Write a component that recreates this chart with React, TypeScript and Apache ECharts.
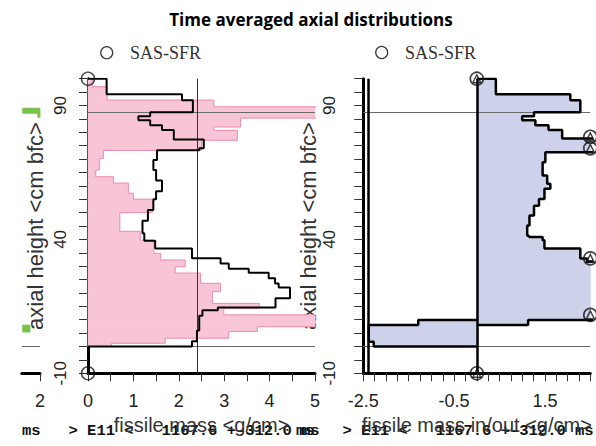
import React, { useEffect, useRef } from "react";
import * as echarts from "echarts";

// ---------- texts ----------
const TITLE = "Time averaged axial distributions";
const LEGEND_LABEL = "SAS-SFR";
const Y_NAME = "axial height <cm bfc>";
const X_NAME_LEFT = "fissile mass <g/cm>";
const X_NAME_RIGHT = "fissile mass in/out <g/cm>";
const FOOTER = "ms   > E11 <   1167.6 +-312.0 ms";

// ---------- tick labels ----------
const Y_TICK_LABELS = [-10, 40, 90];
const X_TICK_LABELS_LEFT = [0, 1, 2, 3, 4, 5];
const X_TICK_LABELS_RIGHT = [-2.5, -0.5, 1.5];
const X_TICK_LABELS_PARTIAL = [2];

// ---------- left panel: fissile mass (black outline) ----------
const massEdges = [100, 94.2, 92, 87.5, 86, 84.5, 82.6, 80.8, 77.3, 74, 73.3, 69.6, 65.9, 62, 58, 55, 51, 47, 42.3, 39.5, 36.6, 33, 31, 29, 27.5, 25.5, 23.5, 22, 18, 14.6, 13.5, 11.5, 6, 2, 0];
const massValues = [0.41, 2.07, 2.31, 1.37, 1.11, 1.37, 1.63, 1.89, 2.55, 2.45, 1.52, 1.44, 1.5, 1.63, 1.5, 1.44, 1.32, 1.2, 1.24, 1.48, 2.29, 2.92, 3.1, 3.54, 3.98, 4.12, 4.2, 4.45, 4.13, 2.86, 2.52, 2.45, 2.4, 2.29];

// ---------- left panel: pink filled distribution ----------
const pinkEdges = [100, 97, 92, 89.5, 85.3, 82, 80.7, 77, 73.2, 70.2, 65.9, 63.4, 61, 57.2, 55, 50, 43, 39.7, 34.8, 32.3, 29.8, 27.4, 23.6, 20.5, 16.1, 14.3, 11.8, 7.4, 5.6, 3.1, 1.2, 0];
const pinkValues = [0.1, 0.42, 2.77, 5.2, 3.36, 2.77, 3.29, 2.5, 0.34, 0.25, 0.17, 0.56, 0.89, 1.0, 1.42, 0.7, 1.15, 1.45, 1.6, 2.14, 1.92, 2.48, 2.92, 2.74, 3.77, 2.99, 5.2, 3.73, 3.1, 1.7, 0.52];

// ---------- right panel: fissile mass in (positive) / out (negative) ----------
const inEdges = [100, 94.2, 92, 87.5, 86, 84.5, 82.6, 80.8, 77.7, 72.5, 68.8, 63.9, 60.8, 58.9, 55.1, 52.6, 48.9, 45.2, 41.4, 40.9, 39.7, 36.6, 32.9, 31.7, 9.9, 8.0];
const inValues = [0.42, 2.06, 2.28, 1.26, 1.0, 1.29, 1.58, 1.88, 2.7, 1.51, 1.45, 1.55, 1.62, 1.49, 1.37, 1.26, 1.16, 1.11, 1.15, 1.45, 1.49, 2.28, 2.43, 2.7, 1.13];
const outEdges = [9.9, 8.0, 1.8, 0];
const outValues = [-1.29, -2.38, -2.27];

// ---------- markers ----------
const leftMarkers = [[0, 100], [0, -10]];
const rightMarkers = [[0, 100], [0, -10], [2.5, 78.3], [2.5, 74], [2.5, 32.9], [2.5, 11.8]];

// ---------- reference lines ----------
const refY = [0, 87.5];
const leftRefX = [2.4];
const rightRefX = [-2.4, 0];

// ---------- partial (cut-off) panel on the far left ----------
const greenX0 = [1.62, 1.95, 1.62];
const greenX1 = [2.0, 2.0, 1.78];
const greenY0 = [87.1, 85.6, 5.4];
const greenY1 = [89.0, 87.1, 8.0];

const stepPoints = (edges: number[], values: number[]) => {
  const pts: number[][] = [[0, edges[0]]];
  values.forEach((v, i) => {
    pts.push([v, edges[i]], [v, edges[i + 1]]);
  });
  pts.push([0, edges[edges.length - 1]]);
  return pts;
};
const binItems = (edges: number[], values: number[]) =>
  values.map((v, i) => [v, edges[i], edges[i + 1], 0]);

const rectRenderer = (fill: string, stroke: string) => (params: any, api: any) => {
  const a = api.coord([api.value(3), api.value(1)]);
  const b = api.coord([api.value(0), api.value(2)]);
  const cs = params.coordSys;
  const shape = echarts.graphic.clipRectByRect(
    {
      x: Math.min(a[0], b[0]),
      y: Math.min(a[1], b[1]),
      width: Math.abs(b[0] - a[0]),
      height: Math.abs(b[1] - a[1]),
    },
    { x: cs.x, y: cs.y, width: cs.width, height: cs.height }
  );
  if (!shape) return null;
  return { type: "rect", shape, style: { fill, stroke, lineWidth: 0.8 } };
};

const FONT = "Liberation Sans";
const GRID_TOP = 78.7;
const GRID_H = 294.6;

export default function App() {
  const ref = useRef<HTMLDivElement>(null);

  useEffect(() => {
    document.body.style.margin = "0";
    if (!ref.current) return;
    const chart = echarts.init(ref.current, null, { renderer: "svg" });

    const yAxisBase = (gridIndex: number, margin: number) => ({
      type: "value",
      gridIndex,
      min: -10,
      max: 100,
      interval: 5,
      axisLine: { show: true, onZero: false, lineStyle: { color: "#000", width: 3 } },
      axisTick: { show: true, length: 9, lineStyle: { color: "#333", width: 1 } },
      axisLabel: {
        customValues: Y_TICK_LABELS,
        rotate: 90,
        margin,
        fontSize: 17,
        fontFamily: FONT,
        color: "#222",
      },
      splitLine: { show: false },
      name: Y_NAME,
      nameLocation: "middle",
      nameRotate: 90,
      nameGap: 42,
      nameTextStyle: { fontSize: 22, fontFamily: FONT, color: "#333" },
    });

    const xLabelStyle = { fontSize: 18, fontFamily: FONT, color: "#222", margin: 19 };

    const refMarkLine = (data: any[]) => ({
      silent: true,
      symbol: "none",
      label: { show: false },
      animation: false,
      data,
    });

    const option: any = {
      animation: false,
      backgroundColor: "#ffffff",
      title: {
        text: TITLE,
        left: 306,
        top: 6,
        textAlign: "center",
        textStyle: { fontSize: 17, fontWeight: "bold", fontFamily: "Open Sans", color: "#000" },
      },
      grid: [
        { left: 88, top: GRID_TOP, width: 227, height: GRID_H },
        { left: 363.3, top: GRID_TOP, width: 227, height: GRID_H },
        { left: 21.8, top: GRID_TOP, width: 18.2, height: GRID_H },
      ],
      xAxis: [
        {
          type: "value",
          gridIndex: 0,
          min: 0,
          max: 5,
          interval: 0.5,
          axisLine: { onZero: false, lineStyle: { color: "#000", width: 3 } },
          axisTick: { length: 8, lineStyle: { color: "#333", width: 1 } },
          axisLabel: { ...xLabelStyle, customValues: X_TICK_LABELS_LEFT },
          splitLine: { show: false },
          name: X_NAME_LEFT,
          nameLocation: "middle",
          nameGap: 41,
          nameTextStyle: { fontSize: 20, fontFamily: FONT, color: "#333" },
        },
        {
          type: "value",
          gridIndex: 1,
          min: -2.5,
          max: 2.5,
          interval: 0.25,
          axisLine: { onZero: false, lineStyle: { color: "#000", width: 3 } },
          axisTick: { length: 8, lineStyle: { color: "#333", width: 1 } },
          axisLabel: { ...xLabelStyle, customValues: X_TICK_LABELS_RIGHT },
          splitLine: { show: false },
          name: X_NAME_RIGHT,
          nameLocation: "middle",
          nameGap: 41,
          nameTextStyle: { fontSize: 20, fontFamily: FONT, color: "#333" },
        },
        {
          type: "value",
          gridIndex: 2,
          min: 1.6,
          max: 2,
          axisLine: { onZero: false, lineStyle: { color: "#000", width: 3 } },
          axisTick: { length: 8, customValues: X_TICK_LABELS_PARTIAL, lineStyle: { color: "#333", width: 1 } },
          axisLabel: { ...xLabelStyle, customValues: X_TICK_LABELS_PARTIAL },
          splitLine: { show: false },
        },
      ],
      yAxis: [
        yAxisBase(0, 19.5),
        yAxisBase(1, 25.5),
        { type: "value", gridIndex: 2, min: -10, max: 100, show: false },
      ],
      series: [
        // ----- left panel -----
        {
          type: "custom",
          name: "pink",
          xAxisIndex: 0,
          yAxisIndex: 0,
          renderItem: rectRenderer("#f7c5d6", "#f7c5d6"),
          data: binItems(pinkEdges, pinkValues),
          encode: { x: 0, y: [1, 2] },
          z: 1,
        },
        {
          type: "line",
          name: "pinkOutline",
          xAxisIndex: 0,
          yAxisIndex: 0,
          data: stepPoints(pinkEdges, pinkValues),
          showSymbol: false,
          symbol: "none",
          lineStyle: { color: "#ef90b1", width: 1 },
          z: 2,
          markLine: refMarkLine([
            ...refY.map((y) => ({ yAxis: y, lineStyle: { color: "#6a6a6a", width: 1, type: "solid" } })),
            ...leftRefX.map((x) => ({ xAxis: x, lineStyle: { color: "#333", width: 1, type: "solid" } })),
          ]),
        },
        {
          type: "line",
          name: "mass",
          xAxisIndex: 0,
          yAxisIndex: 0,
          data: stepPoints(massEdges, massValues),
          showSymbol: false,
          symbol: "none",
          lineStyle: { color: "#000", width: 2 },
          z: 5,
        },
        {
          type: "scatter",
          name: LEGEND_LABEL,
          xAxisIndex: 0,
          yAxisIndex: 0,
          data: leftMarkers,
          symbol: "circle",
          symbolSize: 13,
          clip: false,
          itemStyle: { color: "rgba(0,0,0,0)", borderColor: "#111", borderWidth: 1.4 },
          z: 6,
        },
        // ----- right panel -----
        {
          type: "custom",
          name: "inFill",
          xAxisIndex: 1,
          yAxisIndex: 1,
          renderItem: rectRenderer("#cdd2ea", "#cdd2ea"),
          data: [...binItems(inEdges, inValues), ...binItems(outEdges, outValues)],
          encode: { x: 0, y: [1, 2] },
          z: 1,
        },
        {
          type: "line",
          name: "in",
          xAxisIndex: 1,
          yAxisIndex: 1,
          data: stepPoints(inEdges, inValues),
          showSymbol: false,
          symbol: "none",
          lineStyle: { color: "#000", width: 2.5 },
          z: 5,
          markLine: refMarkLine([
            ...refY.map((y) => ({ yAxis: y, lineStyle: { color: "#6a6a6a", width: 1, type: "solid" } })),
            ...rightRefX.map((x) => ({ xAxis: x, lineStyle: { color: "#000", width: 2.5, type: "solid" } })),
          ]),
        },
        {
          type: "line",
          name: "out",
          xAxisIndex: 1,
          yAxisIndex: 1,
          data: stepPoints(outEdges, outValues),
          showSymbol: false,
          symbol: "none",
          lineStyle: { color: "#000", width: 2.5 },
          z: 5,
        },
        {
          type: "scatter",
          name: "markerCircle",
          xAxisIndex: 1,
          yAxisIndex: 1,
          data: rightMarkers,
          symbol: "circle",
          symbolSize: 13,
          clip: false,
          itemStyle: { color: "rgba(0,0,0,0)", borderColor: "#111", borderWidth: 1.6 },
          z: 6,
        },
        {
          type: "scatter",
          name: "markerTriangle",
          xAxisIndex: 1,
          yAxisIndex: 1,
          data: rightMarkers,
          symbol: "triangle",
          symbolSize: 8,
          clip: false,
          itemStyle: { color: "rgba(0,0,0,0)", borderColor: "#111", borderWidth: 1.4 },
          z: 6,
        },
        // ----- partial panel -----
        {
          type: "custom",
          name: "green",
          xAxisIndex: 2,
          yAxisIndex: 2,
          renderItem: rectRenderer("#79c24a", "#79c24a"),
          data: greenX1.map((x1, i) => [x1, greenY0[i], greenY1[i], greenX0[i]]),
          encode: { x: [0, 3], y: [1, 2] },
          z: 1,
        },
        {
          type: "line",
          name: "partialRef",
          xAxisIndex: 2,
          yAxisIndex: 2,
          data: [[1.6, refY[0]], [2.0, refY[0]]],
          showSymbol: false,
          symbol: "none",
          lineStyle: { color: "#6a6a6a", width: 1 },
          z: 2,
        },
      ],
      graphic: [
        {
          type: "circle",
          shape: { cx: 106.7, cy: 52.7, r: 6 },
          style: { fill: "none", stroke: "#333", lineWidth: 1.2 },
        },
        {
          type: "text",
          x: 130,
          y: 53,
          style: {
            text: LEGEND_LABEL,
            font: '18px "Liberation Serif"',
            fill: "#333",
            verticalAlign: "middle",
            align: "left",
          },
        },
        {
          type: "circle",
          shape: { cx: 381.7, cy: 52.5, r: 6 },
          style: { fill: "none", stroke: "#333", lineWidth: 1.2 },
        },
        {
          type: "text",
          x: 405,
          y: 53,
          style: {
            text: LEGEND_LABEL,
            font: '18px "Liberation Serif"',
            fill: "#333",
            verticalAlign: "middle",
            align: "left",
          },
        },
        {
          type: "text",
          x: 22,
          y: 431,
          z: -1,
          style: {
            text: FOOTER,
            font: 'bold 15.5px "Liberation Mono"',
            fill: "#111",
            verticalAlign: "middle",
            align: "left",
          },
        },
        {
          type: "text",
          x: 296,
          y: 431,
          z: -1,
          style: {
            text: FOOTER,
            font: 'bold 15.5px "Liberation Mono"',
            fill: "#111",
            verticalAlign: "middle",
            align: "left",
          },
        },
      ],
    };

    chart.setOption(option);
    return () => chart.dispose();
  }, []);

  return <div ref={ref} style={{ width: 596, height: 446 }} />;
}
